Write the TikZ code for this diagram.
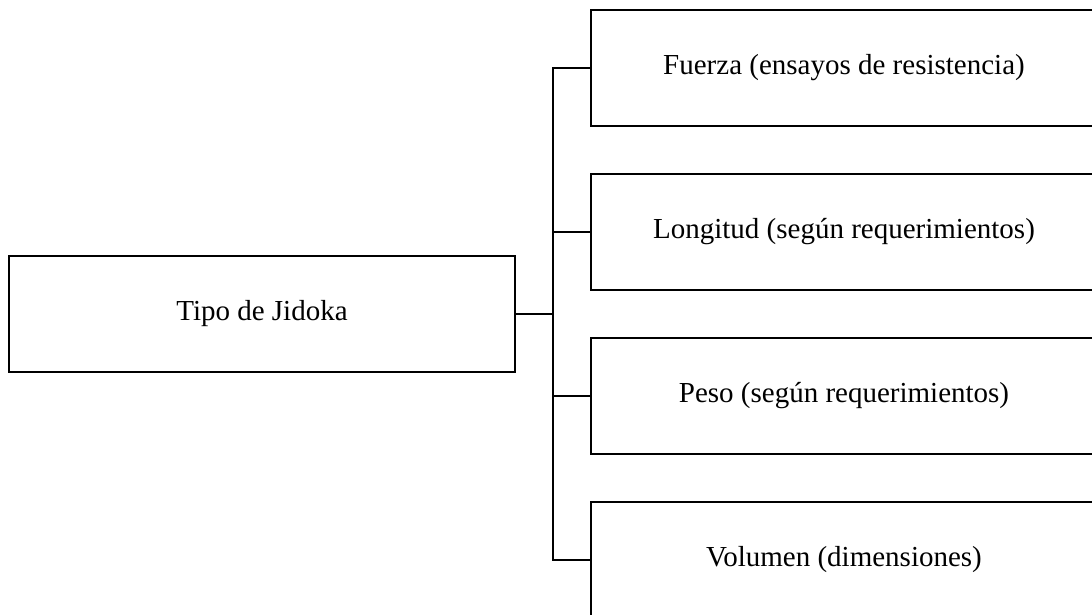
\documentclass[tikz,border=0pt]{standalone}
\usepackage{fontspec}
\setmainfont{Liberation Serif}
\begin{document}
\begin{tikzpicture}[x=1pt,y=1pt,
  box/.style={draw, line width=1.5pt, rectangle, minimum width=506pt, minimum height=116pt,
    inner sep=0pt, font=\fontsize{29}{34}\selectfont},
  link/.style={line width=1.5pt}]
\useasboundingbox (0,0) rectangle (1092,615);
\clip (0,0) rectangle (1092,615);
% root box
\node[box] (root) at (262,301) {Tipo de Jidoka};
% branch boxes
\node[box] (f) at (844,547) {Fuerza (ensayos de resistencia)};
\node[box] (l) at (844,383) {Longitud (según requerimientos)};
\node[box] (p) at (844,219) {Peso (según requerimientos)};
\node[box] (v) at (844,55) {Volumen (dimensiones)};
% bus
\coordinate (bus) at (553,0);
\draw[link] (f.west) -- (f.west -| bus) -- (v.west -| bus) -- (v.west);
\draw[link] (l.west) -- (l.west -| bus);
\draw[link] (p.west) -- (p.west -| bus);
\draw[link, line width=2pt] (root.east) -- (root.east -| bus);
\end{tikzpicture}
\end{document}
